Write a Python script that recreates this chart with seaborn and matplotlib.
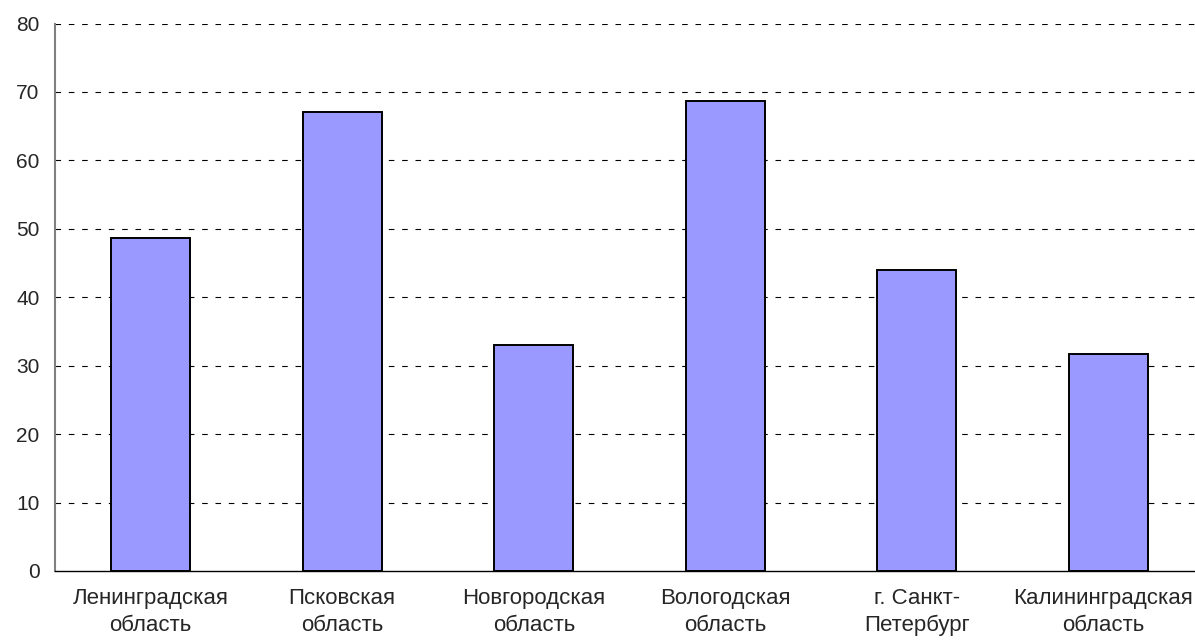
import matplotlib
matplotlib.use("Agg")
import matplotlib.pyplot as plt
import matplotlib.transforms as mtransforms
import seaborn as sns
import numpy as np
import pandas as pd

# Data
regions = ['Ленинградская\nобласть', 'Псковская\nобласть', 'Новгородская\nобласть',
           'Вологодская\nобласть', 'г. Санкт-\nПетербург', 'Калининградская\nобласть']
values = [48.6, 67.0, 33.0, 68.7, 44.0, 31.7]
y_ticks = [0, 10, 20, 30, 40, 50, 60, 70, 80]

sns.set_style("white")
plt.rcParams['font.family'] = ['Liberation Sans', 'DejaVu Sans']
plt.rcParams['font.size'] = 15

df = pd.DataFrame({'region': regions, 'value': values})

fig = plt.figure(figsize=(11.95, 6.44), dpi=100)
# plot area runs a bit past the right edge of the picture, like the original crop
ax = fig.add_axes([55 / 1195, 1 - 571 / 644, (1204 - 55) / 1195, (571 - 23.5) / 644])

sns.barplot(data=df, x='region', y='value', color='#9999FF', saturation=1,
            edgecolor='black', linewidth=1.4, width=0.41, ax=ax)

ax.set_ylim(0, 80)
ax.set_xlim(-0.5, len(regions) - 0.5)
ax.set_yticks(y_ticks)
ax.set_xlabel('')
ax.set_ylabel('')

# dashed horizontal grid
ax.set_axisbelow(True)
for t in y_ticks[1:]:
    ax.axhline(t, color='black', linewidth=0.8, linestyle=(0, (5, 7)), zorder=0)

# x ticks between categories, labels centred under bars
ax.set_xticks(np.arange(len(regions)))
ax.set_xticklabels(regions, linespacing=1.4)
ax.set_xticks(np.arange(len(regions) + 1) - 0.5, minor=True)
ax.tick_params(axis='x', which='major', length=0, pad=12, labelsize=16)
ax.tick_params(axis='x', which='minor', length=5, width=1, color='#404040', direction='out')
ax.tick_params(axis='y', length=5, width=1, color='#808080', direction='out', pad=6, labelsize=15)

# nudge the last label left so it stays inside the picture
last = ax.get_xticklabels()[-1]
last.set_transform(last.get_transform() +
                   mtransforms.ScaledTranslation(-5 / 100, 0, fig.dpi_scale_trans))

for side in ['top', 'right']:
    ax.spines[side].set_visible(False)
ax.spines['left'].set_color('#808080')
ax.spines['left'].set_linewidth(1.5)
ax.spines['bottom'].set_color('black')
ax.spines['bottom'].set_linewidth(1)

fig.savefig('out.png', dpi=100)
